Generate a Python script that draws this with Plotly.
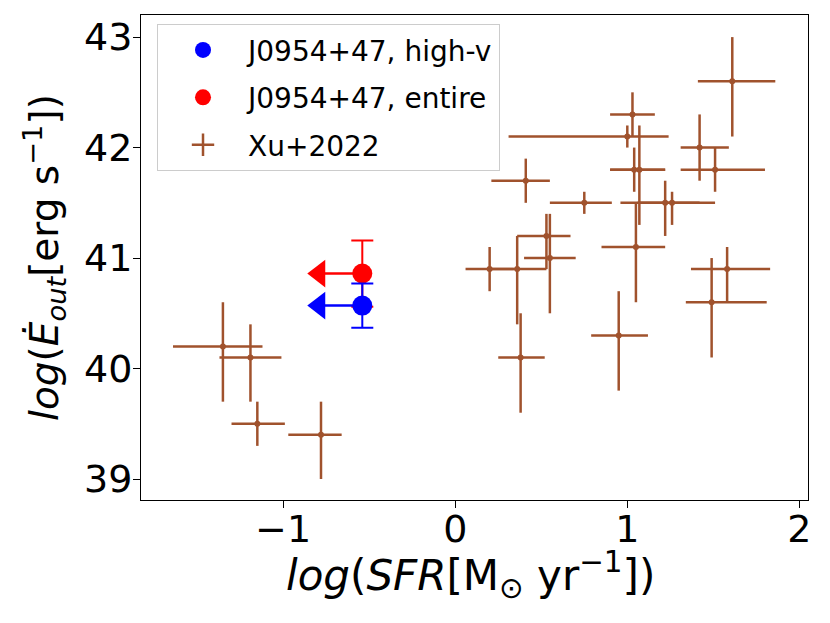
import plotly.graph_objects as go

# Xu+2022 sample
xu_x = [-1.35, -1.19, -1.15, -0.78, 1.61, 1.03, 1.00, 1.04, 1.07, 1.42, 1.51, 0.41,
        0.75, 1.22, 1.26, 1.05, 0.20, 0.36, 0.53, 0.55, 0.38, 0.95, 1.58, 1.49]
xu_y = [40.2, 40.1, 39.5, 39.4, 42.6, 42.3, 42.1, 41.8, 41.8, 42.0, 41.8, 41.7,
        41.5, 41.5, 41.5, 41.1, 40.9, 40.9, 41.2, 41.0, 40.1, 40.3, 40.9, 40.6]
xu_xerr_lo = [0.29, 0.18, 0.15, 0.19, 0.20, 0.13, 0.69, 0.14, 0.17, 0.11, 0.20, 0.20,
              0.20, 0.26, 0.20, 0.20, 0.14, 0.15, 0.17, 0.15, 0.13, 0.16, 0.21, 0.15]
xu_xerr_hi = [0.23, 0.18, 0.16, 0.12, 0.25, 0.13, 0.24, 0.18, 0.15, 0.17, 0.29, 0.14,
              0.16, 0.20, 0.25, 0.17, 0.14, 0.17, 0.14, 0.15, 0.14, 0.17, 0.25, 0.32]
xu_yerr_hi = [0.4, 0.3, 0.2, 0.3, 0.4, 0.2, 0.1, 0.2, 0.4, 0.3, 0.2, 0.2,
              0.1, 0.2, 0.1, 0.4, 0.2, 0.3, 0.2, 0.4, 0.4, 0.4, 0.2, 0.4]
xu_yerr_lo = [0.5, 0.4, 0.2, 0.4, 0.5, 0.2, 0.1, 0.2, 0.5, 0.3, 0.2, 0.2,
              0.1, 0.3, 0.2, 0.5, 0.2, 0.5, 0.3, 0.5, 0.5, 0.5, 0.3, 0.5]

# J0954+47 (SFR is an upper limit)
j_sfr = -0.54
j_sfr_lim = 0.25
j_high_y = 40.57
j_high_yerr = 0.2
j_entire_y = 40.86
j_entire_yerr = 0.3

BROWN = "#a0522d"
FONT = "DejaVu Sans"

fig = go.Figure()

# Xu+2022 crosses
fig.add_trace(go.Scatter(
    x=xu_x, y=xu_y, mode="markers",
    marker=dict(color=BROWN, size=6),
    error_x=dict(type="data", array=xu_xerr_hi, arrayminus=xu_xerr_lo,
                 color=BROWN, thickness=2.5, width=0),
    error_y=dict(type="data", array=xu_yerr_hi, arrayminus=xu_yerr_lo,
                 color=BROWN, thickness=2.5, width=0),
    showlegend=False,
))


def add_limit(y, yerr, color):
    # point with y error and a leftward arrow for the SFR upper limit
    fig.add_trace(go.Scatter(
        x=[j_sfr], y=[y], mode="markers",
        marker=dict(color=color, size=20),
        error_x=dict(type="data", array=[0], arrayminus=[j_sfr_lim],
                     color=color, thickness=2.5, width=0),
        error_y=dict(type="data", array=[yerr], color=color, thickness=2, width=11),
        showlegend=False,
    ))
    fig.add_trace(go.Scatter(
        x=[j_sfr - j_sfr_lim], y=[y], mode="markers",
        marker=dict(color=color, size=24, symbol="triangle-left"),
        showlegend=False,
    ))


add_limit(j_entire_y, j_entire_yerr, "red")
add_limit(j_high_y, j_high_yerr, "blue")

# legend entries
fig.add_trace(go.Scatter(x=[None], y=[None], mode="markers", name="J0954+47, high-v",
                         marker=dict(color="blue", size=16), legendgroup="a"))
fig.add_trace(go.Scatter(x=[None], y=[None], mode="markers", name="J0954+47, entire",
                         marker=dict(color="red", size=16), legendgroup="b"))
fig.add_trace(go.Scatter(x=[None], y=[None], mode="markers", name="Xu+2022",
                         marker=dict(color=BROWN, size=20, symbol="cross-thin",
                                     line=dict(color=BROWN, width=2.5)),
                         legendgroup="c"))

axis_common = dict(
    showline=True, linecolor="black", linewidth=1, mirror=True,
    ticks="outside", ticklen=7, tickwidth=1, tickcolor="black",
    showgrid=False, zeroline=False,
    tickfont=dict(family=FONT, size=38, color="black"),
)

fig.update_xaxes(
    range=[-1.826, 2.05], tickvals=[-1, 0, 1, 2], ticktext=["\u22121", "0", "1", "2"],
    ticklabelstandoff=-12,
    **axis_common,
)
fig.update_yaxes(
    range=[38.81, 43.2], tickvals=[39, 40, 41, 42, 43],
    ticklabelstandoff=-7,
    title=dict(text="<i>log</i>(<i>\u0116<sub>out</sub></i>[erg s<sup>\u22121</sup>])",
               font=dict(family=FONT, size=39, color="black"), standoff=13),
    **axis_common,
)

# x-axis title placed as an annotation to sit closer to the tick labels
fig.add_annotation(
    text="<i>log</i>(<i>SFR</i>[M<sub>\u2299</sub> yr<sup>\u22121</sup>])",
    xref="paper", yref="paper", x=0.494, y=-0.154,
    xanchor="center", yanchor="middle", showarrow=False,
    font=dict(family=FONT, size=42, color="black"),
)

fig.update_layout(
    width=830, height=623,
    margin=dict(l=133, r=30, t=7, b=131),
    paper_bgcolor="white", plot_bgcolor="white",
    font=dict(family=FONT, color="black"),
    legend=dict(
        x=0.024, y=0.981, xanchor="left", yanchor="top",
        bgcolor="rgba(255,255,255,0.8)", bordercolor="#cccccc", borderwidth=1,
        font=dict(family=FONT, size=28, color="black"),
        tracegroupgap=8, itemwidth=80,
    ),
)

fig.write_html("out.html")
